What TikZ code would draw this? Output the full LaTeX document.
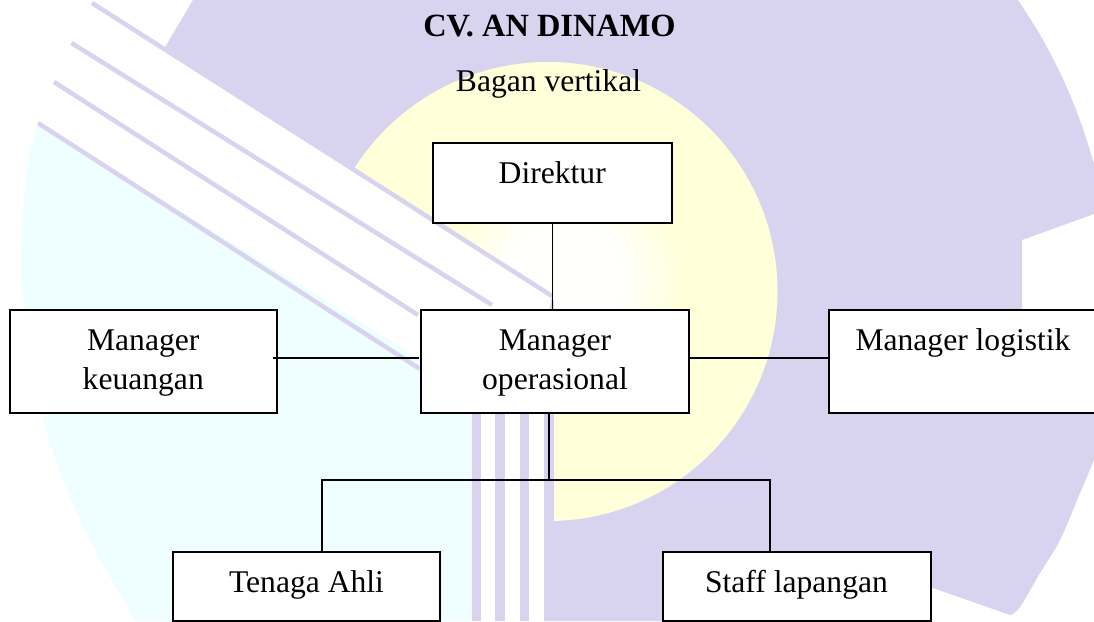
\documentclass[tikz,border=0pt]{standalone}
\usepackage{fontspec}
\setmainfont{Liberation Serif}
\definecolor{wmlav}{HTML}{D8D4F0}
\definecolor{wmyel}{HTML}{FFFFDA}
\definecolor{wmcya}{HTML}{EFFFFF}
\newcommand{\orgtext}[4]{\parbox[c][#1pt][t]{#2pt}{\centering\fontsize{31.6}{38.6}\selectfont\rule{0pt}{40.7pt}#3\\#4\par}}
\tikzset{
  orgbox/.style={draw=black,line width=2pt,fill=white,inner sep=0pt,outer sep=0pt,anchor=north west},
  orgline/.style={draw=black,line width=1.1pt},
  wmstripe/.style={draw=wmlav,line width=4.5pt},
  heading/.style={inner sep=0pt,anchor=base,font=\fontsize{31.6}{38}\selectfont}
}
\begin{document}
\begin{tikzpicture}[x=1pt,y=-1pt]
\useasboundingbox (0,0) rectangle (1094,621);
\clip (0,0) rectangle (1094,621);
\fill[white] (0,0) rectangle (1094,621);
% watermark
\fill[wmcya] plot[smooth,tension=.6] coordinates{(38,123)(27,170)(21,260)(24,300)(42,415)(80,520)(136,621)} -- (472,621) -- (472,391) -- cycle;
\fill[wmlav] plot[smooth,tension=.6] coordinates{(1018,0)(1041,36.5)(1063,79)(1081,123)(1094,164)} -- (1094,214) -- (1022,240) -- (1022,360) -- (1094,360) -- plot[smooth,tension=.6] coordinates{(1094,460)(1080,493)(1060,540)(1040,573)(1020,607)(1010,615)} -- (933,588) -- (900,575) -- (900,621) -- (544,621) -- (544,340) -- (552,296) -- (164,48.9) -- (193,0) -- cycle;
\begin{scope}
\clip (250,103.6) -- (552,296) -- (554,300) -- (554,621) -- (900,621) -- (900,0) -- (250,0) -- cycle;
\clip (548,291.5) circle[radius=229.5];
\fill[wmyel] (300,40) rectangle (800,540);
\foreach \gr [evaluate=\gr as \gp using {(\gr-55)/65*100}] in {120,117,...,55}{\fill[wmyel!\gp!white] (565,280) circle[radius=\gr];}
\end{scope}
\draw[wmstripe] (92,3) -- (552,296);
\draw[wmstripe] (71.5,43) -- (492,305);
\draw[wmstripe] (54,82) -- (418,315);
\draw[wmstripe] (38,123) -- (420,369);
\foreach \sx/\sw in {476.5/9,500/10,524.5/9}{\draw[draw=wmlav,line width=\sw pt] (\sx,340) -- (\sx,621);}
% title
\node[heading,font=\fontsize{32.4}{38}\selectfont] (title) at (549.5,36) {\bfseries CV. AN DINAMO};
\node[heading] (subtitle) at (548.5,91) {Bagan vertikal};
% boxes
\node[orgbox] (dir) at (432.5,142.5) {\orgtext{80}{239.5}{Direktur}{}};
\node[orgbox] (keu) at (9.5,310) {\orgtext{103}{267.5}{Manager}{keuangan}};
\node[orgbox] (ops) at (421,310) {\orgtext{102.5}{268}{Manager}{operasional}};
\node[orgbox] (log) at (829,310) {\orgtext{103}{268}{Manager logistik}{}};
\node[orgbox] (ten) at (173,552) {\orgtext{69}{267}{Tenaga Ahli}{}};
\node[orgbox] (sta) at (662.5,552) {\orgtext{69}{268}{Staff lapangan}{}};
% connectors
\coordinate (rowmid) at (0,358);
\coordinate (busleft) at (322,480);
\coordinate (busmid) at (549,480);
\coordinate (busright) at (770,480);
\draw[orgline] ([xshift=0.5pt]dir.south) -- ([xshift=0.5pt]dir.south |- ops.north);
\draw[orgline,shorten >=2pt] ([xshift=-4pt]keu.east |- rowmid) -- (ops.west |- rowmid);
\draw[orgline] (ops.east |- rowmid) -- (log.west |- rowmid);
\draw[orgline] (busmid |- ops.south) -- (busmid);
\draw[orgline] (busleft |- ten.north) -- (busleft) -- (busright) -- (busright |- sta.north);
\end{tikzpicture}
\end{document}
